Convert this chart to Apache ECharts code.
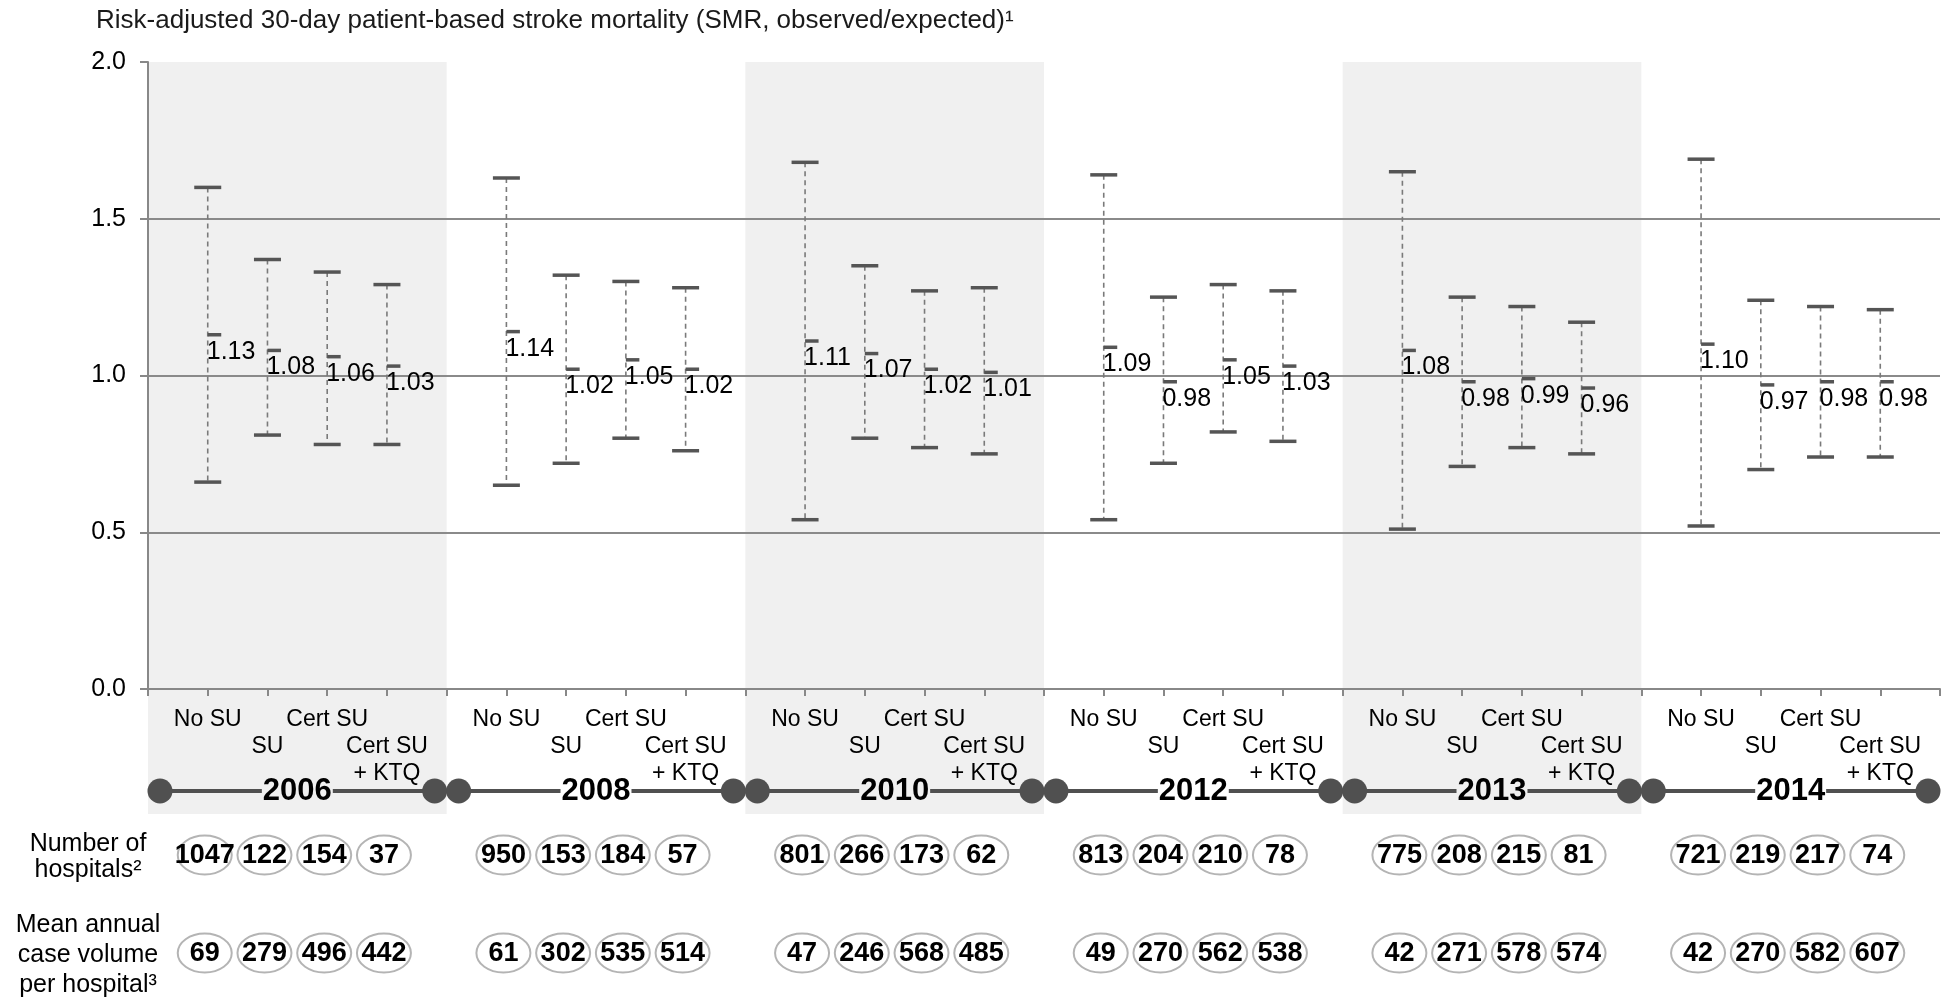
<!DOCTYPE html>
<html><head><meta charset="utf-8">
<script src="https://cdn.jsdelivr.net/npm/echarts@6/dist/echarts.min.js"></script>
<style>html,body{margin:0;padding:0;background:#fff}#c{width:1943px;height:998px}</style>
</head><body><div id="c"></div>
<script>
// ---- data ----
const years = ['2006', '2008', '2010', '2012', '2013', '2014'];
const unitTypes = ['No SU', 'SU', 'Cert SU', 'Cert SU + KTQ'];
const smr = [
  [1.13, 1.08, 1.06, 1.03],
  [1.14, 1.02, 1.05, 1.02],
  [1.11, 1.07, 1.02, 1.01],
  [1.09, 0.98, 1.05, 1.03],
  [1.08, 0.98, 0.99, 0.96],
  [1.10, 0.97, 0.98, 0.98]
];
const ciLow = [
  [0.66, 0.81, 0.78, 0.78],
  [0.65, 0.72, 0.80, 0.76],
  [0.54, 0.80, 0.77, 0.75],
  [0.54, 0.72, 0.82, 0.79],
  [0.51, 0.71, 0.77, 0.75],
  [0.52, 0.70, 0.74, 0.74]
];
const ciHigh = [
  [1.60, 1.37, 1.33, 1.29],
  [1.63, 1.32, 1.30, 1.28],
  [1.68, 1.35, 1.27, 1.28],
  [1.64, 1.25, 1.29, 1.27],
  [1.65, 1.25, 1.22, 1.17],
  [1.69, 1.24, 1.22, 1.21]
];
const hospitals = [
  [1047, 122, 154, 37],
  [950, 153, 184, 57],
  [801, 266, 173, 62],
  [813, 204, 210, 78],
  [775, 208, 215, 81],
  [721, 219, 217, 74]
];
const caseVolume = [
  [69, 279, 496, 442],
  [61, 302, 535, 514],
  [47, 246, 568, 485],
  [49, 270, 562, 538],
  [42, 271, 578, 574],
  [42, 270, 582, 607]
];
const shadedYears = ['2006', '2010', '2013'];
const titleText = 'Risk-adjusted 30-day patient-based stroke mortality (SMR, observed/expected)\u00B9';
const rowLabels = ['Number of\nhospitals\u00B2', 'Mean annual\ncase volume\nper hospital\u00B3'];

// ---- build category slots: one empty boundary slot per year + 4 unit types ----
const SLOTS = unitTypes.length + 1;
const categories = [];
years.forEach(y => {
  categories.push(y + ' |');
  unitTypes.forEach(t => categories.push(y + ' ' + t));
});
categories.push('end |');

const ebData = [];
years.forEach((y, g) => unitTypes.forEach((t, k) => {
  ebData.push([g * SLOTS + k + 1, ciLow[g][k], ciHigh[g][k], smr[g][k]]);
}));

const FONT = '"Liberation Sans", Arial, sans-serif';
const chart = echarts.init(document.getElementById('c'));

const option = {
  animation: false,
  backgroundColor: '#fff',
  title: {
    text: titleText, left: 91, top: 3,
    textStyle: { fontSize: 26, fontWeight: 'normal', color: '#1a1a1a', fontFamily: FONT }
  },
  grid: { left: 148, right: 1, top: 62, bottom: 309 },
  xAxis: {
    type: 'category', data: categories, boundaryGap: false,
    axisLine: { lineStyle: { color: '#888', width: 2 } },
    axisTick: { show: true, interval: 0, length: 7, lineStyle: { color: '#888', width: 2 } },
    axisLabel: {
      interval: 0, margin: 17, fontSize: 23, lineHeight: 27, color: '#000', fontFamily: FONT,
      formatter: (v, i) => {
        const k = i % SLOTS;
        if (k === 0) return '';
        const t = unitTypes[k - 1].replace(' + ', '\n+ ');
        return (k % 2 === 0 ? '\n' : '') + t;
      }
    },
    splitLine: { show: false }
  },
  yAxis: {
    type: 'value', min: 0, max: 2, interval: 0.5,
    axisLine: { show: true, lineStyle: { color: '#888', width: 2 } },
    axisTick: { show: true, length: 8, lineStyle: { color: '#888', width: 2 } },
    axisLabel: { fontSize: 25, color: '#000', margin: 22, fontFamily: FONT, formatter: v => v.toFixed(1) },
    splitLine: { show: true, showMaxLine: false, lineStyle: { color: '#8a8a8a', width: 2 } }
  },
  series: [{
    type: 'custom',
    data: ebData,
    z: 5,
    renderItem: (params, api) => {
      const x = api.value(0);
      const lo = api.coord([x, api.value(1)]);
      const hi = api.coord([x, api.value(2)]);
      const mid = api.coord([x, api.value(3)]);
      const cx = lo[0], hw = 13.5;
      return {
        type: 'group', children: [
          { type: 'line', shape: { x1: cx, y1: hi[1], x2: cx, y2: lo[1] }, style: { stroke: '#7a7a7a', lineWidth: 1.6, lineDash: [5, 4] } },
          { type: 'line', shape: { x1: cx - hw, y1: hi[1], x2: cx + hw, y2: hi[1] }, style: { stroke: '#555', lineWidth: 3.5 } },
          { type: 'line', shape: { x1: cx - hw, y1: lo[1], x2: cx + hw, y2: lo[1] }, style: { stroke: '#555', lineWidth: 3.5 } },
          { type: 'line', shape: { x1: cx, y1: mid[1], x2: cx + hw, y2: mid[1] }, style: { stroke: '#555', lineWidth: 3.5 } },
          { type: 'text', x: cx - 1, y: mid[1] + 17, style: { text: api.value(3).toFixed(2), fill: '#000', fontSize: 25, fontFamily: FONT, align: 'left', verticalAlign: 'middle' } }
        ]
      };
    }
  }]
};
chart.setOption(option);

// ---- decorations positioned through the chart's own scales ----
const toPx = (i, v) => chart.convertToPixel({ gridIndex: 0 }, [i, v]);
const y0 = toPx(0, 0)[1];
const yTop = toPx(0, 2)[1];
const g = [];
years.forEach((yr, gi) => {
  const xs = toPx(gi * SLOTS, 0)[0];
  const xe = toPx((gi + 1) * SLOTS, 0)[0];
  const shaded = shadedYears.indexOf(yr) >= 0;
  const bg = shaded ? '#f0f0f0' : '#fff';
  if (shaded) {
    g.push({ type: 'rect', z: -10, silent: true, shape: { x: xs, y: yTop, width: xe - xs, height: y0 + 125 - yTop }, style: { fill: '#f0f0f0' } });
  }
  const ty = y0 + 102;
  g.push({ type: 'line', z: 10, shape: { x1: xs + 12, y1: ty, x2: xe - 12, y2: ty }, style: { stroke: '#505050', lineWidth: 4 } });
  g.push({ type: 'circle', z: 11, shape: { cx: xs + 12, cy: ty, r: 12.5 }, style: { fill: '#505050' } });
  g.push({ type: 'circle', z: 11, shape: { cx: xe - 12, cy: ty, r: 12.5 }, style: { fill: '#505050' } });
  g.push({ type: 'text', z: 12, x: (xs + xe) / 2, y: ty, style: { text: yr, fontSize: 31, fontWeight: 'bold', fontFamily: FONT, fill: '#000', align: 'center', verticalAlign: 'middle', backgroundColor: bg, padding: [0, 1] } });
  unitTypes.forEach((t, k) => {
    const cx = toPx(gi * SLOTS + k + 1, 0)[0] - 3;
    [[hospitals[gi][k], y0 + 166], [caseVolume[gi][k], y0 + 264]].forEach(([val, cy]) => {
      g.push({ type: 'ellipse', z: 10, shape: { cx: cx, cy: cy, rx: 27, ry: 19.5 }, style: { fill: '#fff', stroke: '#b4b4b4', lineWidth: 2 } });
      g.push({ type: 'text', z: 11, x: cx, y: cy + 1, style: { text: String(val), fontSize: 27, fontWeight: 'bold', fontFamily: '"Liberation Sans Narrow", "Arial Narrow", ' + FONT, fill: '#000', align: 'center', verticalAlign: 'middle' } });
    });
  });
});
g.push({ type: 'text', x: 88, y: y0 + 168, style: { text: rowLabels[0], fontSize: 25, lineHeight: 26, fontFamily: FONT, fill: '#000', align: 'center', verticalAlign: 'middle' } });
g.push({ type: 'text', x: 88, y: y0 + 266, style: { text: rowLabels[1], fontSize: 25, lineHeight: 30, fontFamily: FONT, fill: '#000', align: 'center', verticalAlign: 'middle' } });
chart.setOption({ graphic: { elements: g } });
</script>
</body></html>
